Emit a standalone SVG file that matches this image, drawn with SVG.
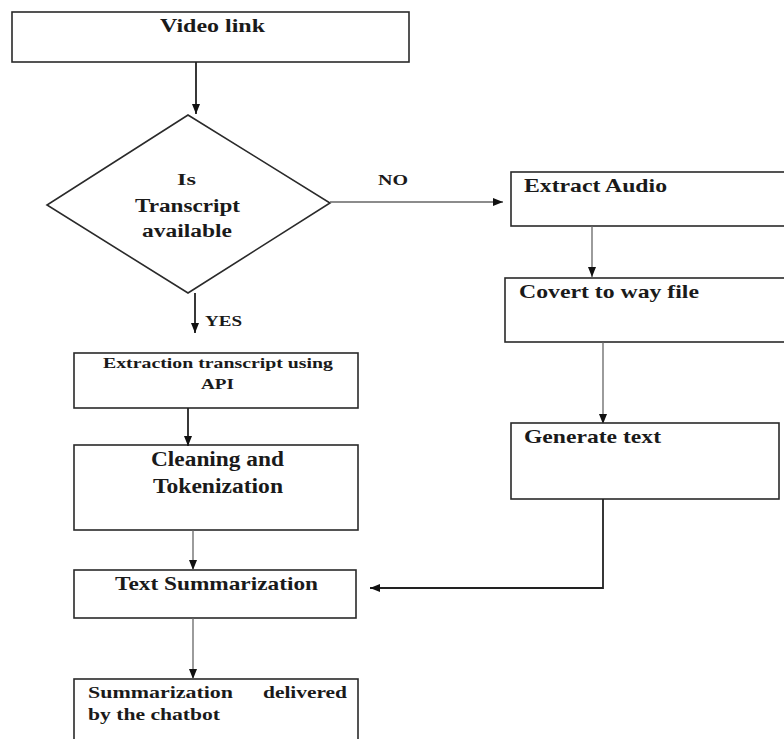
<svg xmlns="http://www.w3.org/2000/svg" width="784" height="739" viewBox="0 0 784 739">
<style>
.box{fill:#fff;stroke:#2a2a2a;stroke-width:1.6}
.t{font-family:"Liberation Serif","Times New Roman",serif;font-weight:bold;fill:#1a1a1a}
.c{fill:none;stroke:#222;stroke-width:1.8}
.g{fill:none;stroke:#666;stroke-width:1.3}
</style>
<defs>
<marker id="ah" viewBox="0 0 10 10" refX="10" refY="5" markerWidth="5" markerHeight="5" orient="auto" markerUnits="userSpaceOnUse">
<path d="M0,0 L10,5 L0,10 z" fill="#111"/>
</marker>
<marker id="ah2" viewBox="0 0 10 10" refX="10" refY="5" markerWidth="10" markerHeight="10" orient="auto" markerUnits="userSpaceOnUse">
<path d="M0,1 L10,5 L0,9 z" fill="#111"/>
</marker>
</defs>
<rect width="784" height="739" fill="#fff"/>

<g id="video-link">
<rect class="box" x="12" y="12" width="397" height="50"/>
<text class="t" x="160" y="32" font-size="19" textLength="105" lengthAdjust="spacingAndGlyphs">Video link</text>
</g>

<g id="decision">
<polygon class="box" points="188,115 330,203 188,293 47,205"/>
<text class="t" x="177" y="185" font-size="17" textLength="19" lengthAdjust="spacingAndGlyphs">Is</text>
<text class="t" x="135" y="212" font-size="18" textLength="105" lengthAdjust="spacingAndGlyphs">Transcript</text>
<text class="t" x="142" y="237" font-size="18" textLength="90" lengthAdjust="spacingAndGlyphs">available</text>
</g>

<g id="extract-audio">
<rect class="box" x="511" y="172" width="290" height="54"/>
<text class="t" x="524" y="192" font-size="19" textLength="143" lengthAdjust="spacingAndGlyphs">Extract Audio</text>
</g>

<g id="convert-wav">
<rect class="box" x="505" y="278" width="296" height="64"/>
<text class="t" x="519" y="298" font-size="19" textLength="180" lengthAdjust="spacingAndGlyphs">Covert to way file</text>
</g>

<g id="generate-text">
<rect class="box" x="511" y="423" width="268" height="76"/>
<text class="t" x="524" y="443" font-size="19" textLength="137" lengthAdjust="spacingAndGlyphs">Generate text</text>
</g>

<g id="extraction-api">
<rect class="box" x="74" y="353" width="284" height="55"/>
<text class="t" x="103" y="368" font-size="15" textLength="230" lengthAdjust="spacingAndGlyphs">Extraction transcript using</text>
<text class="t" x="201" y="389" font-size="15" textLength="33" lengthAdjust="spacingAndGlyphs">API</text>
</g>

<g id="cleaning">
<rect class="box" x="74" y="445" width="284" height="85"/>
<text class="t" x="151" y="466" font-size="20" textLength="133" lengthAdjust="spacingAndGlyphs">Cleaning and</text>
<text class="t" x="153" y="493" font-size="20" textLength="130" lengthAdjust="spacingAndGlyphs">Tokenization</text>
</g>

<g id="text-summarization">
<rect class="box" x="74" y="570" width="282" height="48"/>
<text class="t" x="115" y="590" font-size="19" textLength="203" lengthAdjust="spacingAndGlyphs">Text Summarization</text>
</g>

<g id="delivered">
<rect class="box" x="74" y="679" width="284" height="70"/>
<text class="t" x="88" y="698" font-size="16" textLength="145" lengthAdjust="spacingAndGlyphs">Summarization</text>
<text class="t" x="263" y="698" font-size="16" textLength="84" lengthAdjust="spacingAndGlyphs">delivered</text>
<text class="t" x="88" y="720" font-size="16" textLength="132" lengthAdjust="spacingAndGlyphs">by the chatbot</text>
</g>

<g id="connectors">
<line class="c" x1="196" y1="62" x2="196" y2="114" marker-end="url(#ah2)"/>
<line class="g" x1="330" y1="202" x2="503" y2="202" marker-end="url(#ah2)"/>
<text class="t" x="378" y="185" font-size="15" textLength="30" lengthAdjust="spacingAndGlyphs">NO</text>
<line class="c" x1="195" y1="293" x2="195" y2="333" marker-end="url(#ah2)"/>
<text class="t" x="205" y="326" font-size="15" textLength="37" lengthAdjust="spacingAndGlyphs">YES</text>
<line class="g" x1="592" y1="226" x2="592" y2="277" marker-end="url(#ah2)"/>
<line class="g" x1="603" y1="342" x2="603" y2="424" marker-end="url(#ah2)"/>
<line class="c" x1="188" y1="408" x2="188" y2="446" marker-end="url(#ah2)"/>
<line class="g" x1="193" y1="530" x2="193" y2="570" marker-end="url(#ah2)"/>
<line class="g" x1="193" y1="618" x2="193" y2="679" marker-end="url(#ah2)"/>
<polyline class="c" points="603,499 603,588 370,588" marker-end="url(#ah2)"/>
</g>
</svg>
